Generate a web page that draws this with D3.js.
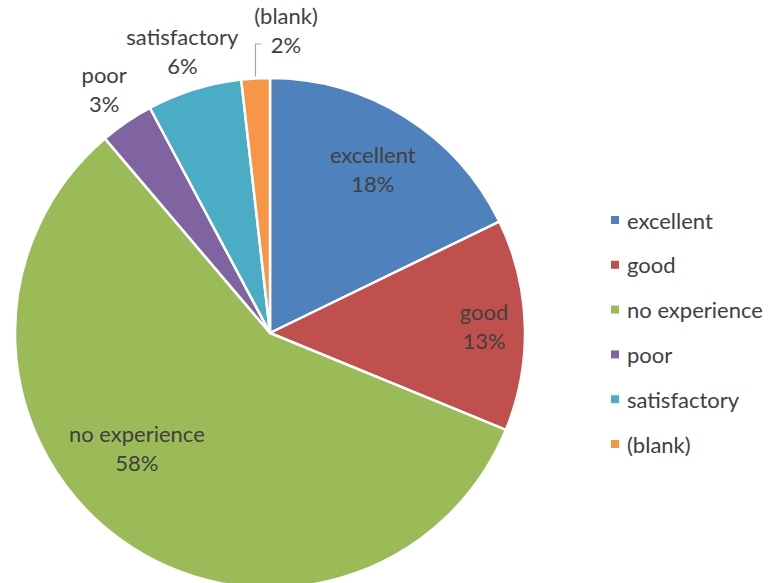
<!DOCTYPE html>
<html>
<head>
<meta charset="utf-8">
<script src="https://cdn.jsdelivr.net/npm/d3@7/dist/d3.min.js"></script>
<style>
  html, body { margin: 0; padding: 0; background: #fff; }
  svg { display: block; }
  text { font-family: Lato, "Open Sans", "Liberation Sans", sans-serif; fill: #404040; }
</style>
</head>
<body>
<svg id="chart" width="769" height="583"></svg>
<script>
// Survey responses, share of all answers (%)
const categories = ["excellent", "good", "no experience", "poor", "satisfactory", "(blank)"];
const shares = [17.8, 13.4, 57.6, 3.4, 6.0, 1.8];
const colors = ["#4F81BD", "#C0504D", "#9BBB59", "#8064A2", "#4BACC6", "#F79646"];

const width = 769, height = 583;
const cx = 270, cy = 333, R = 255;
const fontSize = 22, lineGap = 29;

const svg = d3.select("#chart");

const data = categories.map((c, i) => ({ name: c, value: shares[i], color: colors[i] }));

const pie = d3.pie().sort(null).value(d => d.value).startAngle(0).endAngle(2 * Math.PI);
const arcs = pie(data);
const arc = d3.arc().innerRadius(0).outerRadius(R);

const g = svg.append("g").attr("transform", `translate(${cx},${cy})`);

g.selectAll("path.slice")
  .data(arcs)
  .join("path")
  .attr("class", "slice")
  .attr("d", arc)
  .attr("fill", d => d.data.color)
  .attr("stroke", "#fff")
  .attr("stroke-width", 2.5)
  .attr("stroke-linejoin", "round");

// Label placement: small slices get their label outside the rim,
// large slices keep it inside; a few labels are nudged to fit best.
const mid = d => (d.startAngle + d.endAngle) / 2;
const polar = (a, r) => [Math.sin(a) * r, -Math.cos(a) * r];
const insideNudge = {
  "excellent": { r: 0.76 * R, da: 0 },
  "good": { r: 0.84 * R, da: 0 },
  "no experience": { r: 0.69 * R, da: 0.23 }
};

function labelPos(d) {
  const name = d.data.name;
  if (d.data.value >= 10) {
    const n = insideNudge[name] || { r: 0.75 * R, da: 0 };
    return { p: polar(mid(d) + n.da, n.r), inside: true };
  }
  if (name === "(blank)") {
    // pushed right of the neighbouring label, tied back with a leader line
    return { p: polar(mid(d), R + 45).map((v, i) => i === 0 ? v + 33 : v - 3), inside: false, leader: true };
  }
  return { p: polar(mid(d), R + 40), inside: false };
}

const labels = g.selectAll("g.label")
  .data(arcs)
  .join("g")
  .attr("class", "label")
  .each(function (d) { d.lp = labelPos(d); })
  .attr("transform", d => `translate(${d.lp.p[0]},${d.lp.p[1]})`);

labels.append("text")
  .attr("text-anchor", "middle")
  .attr("dominant-baseline", "central")
  .attr("y", -lineGap / 2)
  .style("font-size", fontSize + "px")
  .text(d => d.data.name);

labels.append("text")
  .attr("text-anchor", "middle")
  .attr("dominant-baseline", "central")
  .attr("y", lineGap / 2)
  .style("font-size", fontSize + "px")
  .text(d => Math.round(d.data.value) + "%");

// Leader line for the displaced label
arcs.filter(d => labelPos(d).leader).forEach(d => {
  const rim = polar(mid(d), R + 2);
  const lp = labelPos(d).p;
  const yTurn = lp[1] + lineGap / 2 - 1;
  g.append("path")
    .attr("d", `M${rim[0]},${rim[1]} L${rim[0]},${yTurn} L${lp[0] - 25},${yTurn}`)
    .attr("fill", "none")
    .attr("stroke", "#A6A6A6")
    .attr("stroke-width", 1.2);
});

// Legend
const legend = svg.append("g").attr("transform", "translate(611,220)");
const rowH = 44.8;
const item = legend.selectAll("g")
  .data(data)
  .join("g")
  .attr("transform", (d, i) => `translate(0,${i * rowH})`);
item.append("rect")
  .attr("x", 0).attr("y", -4)
  .attr("width", 8).attr("height", 8)
  .attr("fill", d => d.color);
item.append("text")
  .attr("x", 16)
  .attr("dominant-baseline", "central")
  .style("font-size", fontSize + "px")
  .text(d => d.name);
</script>
</body>
</html>
